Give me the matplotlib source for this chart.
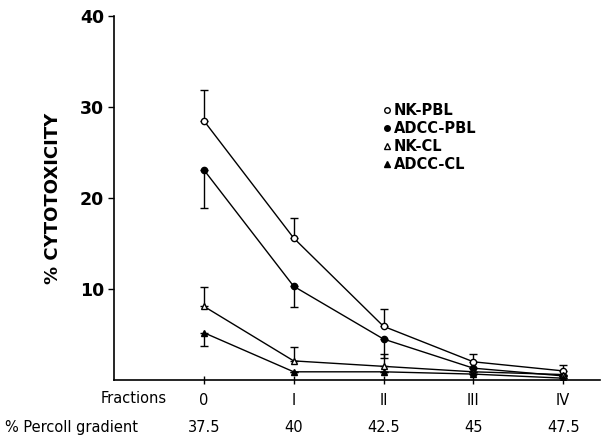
import matplotlib
matplotlib.use("Agg")
import matplotlib.pyplot as plt
from matplotlib.lines import Line2D
import numpy as np

# fraction labels and percoll gradient under each fraction
fractions = ["0", "I", "II", "III", "IV"]
percoll = ["37.5", "40", "42.5", "45", "47.5"]

# % cytotoxicity per fraction
nk_pbl = [28.5, 15.6, 5.9, 2.0, 1.0]
adcc_pbl = [23.1, 10.3, 4.5, 1.3, 0.45]
nk_cl = [8.1, 2.1, 1.5, 0.9, 0.6]
adcc_cl = [5.2, 0.9, 0.9, 0.65, 0.2]

# one-sided error bars (up for NK, down for ADCC)
nk_pbl_up = [3.4, 2.2, 1.9, 0.85, 0.6]
adcc_pbl_down = [4.2, 2.3, 2.1, 0.0, 0.0]
nk_cl_up = [2.1, 1.5, 1.4, 0.0, 0.0]
adcc_cl_down = [1.5, 0.0, 0.0, 0.0, 0.0]

fig = plt.figure(figsize=(6.01, 4.36), dpi=100)
ax = fig.add_axes([114 / 601, 56 / 436, 486 / 601, 364 / 436])

x = np.arange(len(fractions))
zeros = np.zeros(len(fractions))

series = [
    ("NK-PBL", nk_pbl, [zeros, nk_pbl_up], "o", "white"),
    ("ADCC-PBL", adcc_pbl, [adcc_pbl_down, zeros], "o", "black"),
    ("NK-CL", nk_cl, [zeros, nk_cl_up], "^", "white"),
    ("ADCC-CL", adcc_cl, [adcc_cl_down, zeros], "^", "black"),
]
handles = []
for name, vals, err, mk, fc in series:
    err = np.array(err)
    ax.errorbar(x, vals, yerr=err, fmt="none", ecolor="black", elinewidth=1,
                capsize=3, capthick=1, zorder=2)
    ax.plot(x, vals, color="black", lw=1, marker=mk, markersize=4.5,
            markerfacecolor=fc, markeredgecolor="black", markeredgewidth=1,
            zorder=3)
    handles.append(Line2D([], [], linestyle="none", marker=mk, markersize=4,
                          markerfacecolor=fc, markeredgecolor="black",
                          markeredgewidth=1, label=name))

ax.set_xlim(-1.0, 4.41)
ax.set_ylim(0, 40)
ax.spines["top"].set_visible(False)
ax.spines["right"].set_visible(False)
ax.spines["left"].set_linewidth(1.2)
ax.spines["bottom"].set_linewidth(1.2)

ax.set_yticks([10, 20, 30, 40])
ax.set_yticklabels(["10", "20", "30", "40"], fontsize=12.5, fontweight="bold")
ax.tick_params(axis="y", length=4, width=1, pad=3)
ax.set_xticks(x)
ax.set_xticklabels(fractions, fontsize=10.5)
ax.tick_params(axis="x", direction="inout", length=6, width=1, pad=6)

for xi, p in zip(x, percoll):
    ax.text(xi, -47 / 364, p, transform=ax.get_xaxis_transform(), ha="center",
            va="center", fontsize=10.5)

fig.text(167 / 601, 1 - 398 / 436, "Fractions", ha="right", va="center", fontsize=10.5)
fig.text(5 / 601, 1 - 427 / 436, "% Percoll gradient", ha="left", va="center", fontsize=10.5)

ax.set_ylabel("% CYTOTOXICITY", fontsize=13, fontweight="bold")
ax.yaxis.set_label_coords(-52 / 486, (380 - 198) / 364)

ax.legend(handles=handles, loc="upper left", bbox_to_anchor=(375 / 601, 1 - 96 / 436),
          bbox_transform=fig.transFigure, frameon=False, handlelength=0.6,
          handletextpad=0.2, labelspacing=0.2, borderpad=0,
          prop={"size": 10.5, "weight": "bold"})

fig.savefig("out.png", dpi=100)
